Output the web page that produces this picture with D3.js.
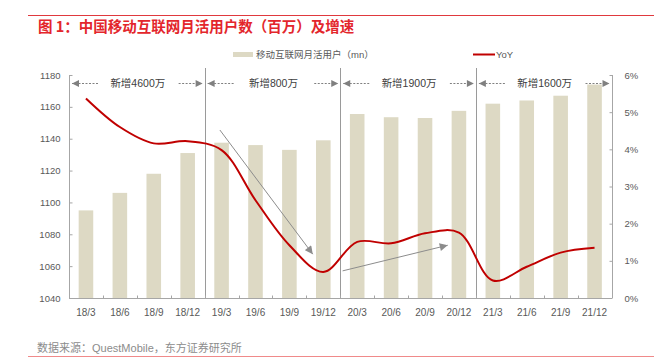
<!DOCTYPE html>
<html>
<head>
<meta charset="utf-8">
<script src="https://cdn.jsdelivr.net/npm/d3@7"></script>
<style>
  body { margin: 0; background: #fff; }
  svg { display: block; font-family: "Liberation Sans", "Noto Sans CJK SC", sans-serif; }
</style>
</head>
<body>
<div id="chart"></div>
<script>
// données
const quarters = ['18/3', '18/6', '18/9', '18/12', '19/3', '19/6', '19/9', '19/12',
  '20/3', '20/6', '20/9', '20/12', '21/3', '21/6', '21/9', '21/12'];
const mau = [1095, 1106, 1118, 1131, 1137.5, 1136, 1133, 1139,
  1155.5, 1153.5, 1153, 1157.5, 1162, 1164, 1167, 1174];
const yoy = [5.37, 4.6, 4.16, 4.22, 3.98, 2.63, 1.42, 0.7,
  1.51, 1.47, 1.74, 1.76, 0.47, 0.84, 1.22, 1.35];
const leftTicks = [1040, 1060, 1080, 1100, 1120, 1140, 1160, 1180];
const rightTicks = [0, 1, 2, 3, 4, 5, 6];
const periods = [
  { from: 0, to: 4, label: '新增4600万' },
  { from: 4, to: 8, label: '新增800万' },
  { from: 8, to: 12, label: '新增1900万' },
  { from: 12, to: 16, label: '新增1600万' }
];
// flèches grises (position de catégorie, YoY %)
const trendArrows = [
  { x1: 3.95, y1: 4.52, x2: 6.69, y2: 1.18 },
  { x1: 7.57, y1: 0.73, x2: 10.67, y2: 1.42 }
];

const width = 654;
const height = 362;
const margin = { top: 75, right: 43, bottom: 64, left: 69 };

const svg = d3.select('#chart')
  .append('svg')
  .attr('width', width)
  .attr('height', height);

const defs = svg.append('defs');
function addMarker(id, color, w, h) {
  defs.append('marker')
    .attr('id', id)
    .attr('viewBox', '0 0 10 10')
    .attr('refX', 10)
    .attr('refY', 5)
    .attr('markerUnits', 'userSpaceOnUse')
    .attr('markerWidth', w)
    .attr('markerHeight', h)
    .attr('orient', 'auto')
    .append('path')
    .attr('d', 'M0,0 L10,5 L0,10 Z')
    .attr('fill', color);
}
addMarker('head', '#808080', 8, 7);
addMarker('headDiag', '#8c8c8c', 9, 8);

// bandeau titre
svg.append('line')
  .attr('x1', 28).attr('x2', width)
  .attr('y1', 15.5).attr('y2', 15.5)
  .attr('stroke', '#e0393e').attr('stroke-width', 1);

svg.append('text')
  .attr('x', 38).attr('y', 32)
  .attr('font-size', '14.5px')
  .attr('font-weight', 'bold')
  .attr('fill', '#e3262c')
  .style('font-family', '"Noto Sans CJK SC", sans-serif')
  .text('图 1：中国移动互联网月活用户数（百万）及增速');

// échelles
const x0 = margin.left;
const x1 = width - margin.right + 0.5;
const y0 = height - margin.bottom;

const scaleX = d3.scaleBand()
  .domain(quarters)
  .range([x0, x1])
  .paddingInner(0.57)
  .paddingOuter(0.285);

const edgeX = d3.scaleLinear().domain([0, quarters.length]).range([x0, x1]);
const posX = d3.scaleLinear().domain([-0.5, quarters.length - 0.5]).range([x0, x1]);

const scaleY = d3.scaleLinear().domain([1040, 1180]).range([y0, margin.top]);
const scaleY2 = d3.scaleLinear().domain([0, 6]).range([y0, margin.top]);

// barres
svg.append('g')
  .selectAll('rect')
  .data(mau)
  .join('rect')
  .attr('x', (d, i) => scaleX(quarters[i]))
  .attr('width', scaleX.bandwidth())
  .attr('y', d => scaleY(d))
  .attr('height', d => scaleY(1040) - scaleY(d))
  .attr('fill', '#ddd9c4');

// séparateurs de périodes
svg.append('g')
  .selectAll('line')
  .data(periods.slice(1))
  .join('line')
  .attr('x1', d => Math.round(edgeX(d.from)) + 0.5)
  .attr('x2', d => Math.round(edgeX(d.from)) + 0.5)
  .attr('y1', 68)
  .attr('y2', y0)
  .attr('stroke', '#9a9a9a')
  .attr('stroke-width', 1);

// axes
const axisColor = '#a6a6a6';
const labelColor = '#595959';

const gx = svg.append('g').attr('transform', `translate(0, ${y0 + 0.5})`);
gx.append('line').attr('x1', x0).attr('x2', x1).attr('stroke', axisColor);
gx.selectAll('.tick')
  .data(d3.range(1, quarters.length))
  .join('line')
  .attr('x1', d => Math.round(edgeX(d)) + 0.5)
  .attr('x2', d => Math.round(edgeX(d)) + 0.5)
  .attr('y1', 0).attr('y2', -3)
  .attr('stroke', axisColor);
gx.selectAll('text')
  .data(quarters)
  .join('text')
  .attr('x', d => scaleX(d) + scaleX.bandwidth() / 2)
  .attr('y', 13.5)
  .attr('dy', '0.35em')
  .attr('text-anchor', 'middle')
  .attr('font-size', '10px')
  .attr('fill', labelColor)
  .text(d => d);

const gl = svg.append('g').attr('transform', `translate(${x0 + 0.5}, 0)`);
gl.call(d3.axisLeft(scaleY).tickValues(leftTicks).tickSize(-3).tickPadding(9)
    .tickFormat(d3.format('d')))
  .call(g => g.select('.domain').attr('stroke', axisColor).attr('d', `M0,${margin.top}V${y0}`))
  .call(g => g.selectAll('.tick line').attr('stroke', axisColor))
  .call(g => g.selectAll('.tick text').attr('font-size', '9.5px').attr('fill', labelColor)
    .style('font-family', '"Liberation Sans", sans-serif'));

const gr = svg.append('g').attr('transform', `translate(${Math.round(x1) + 0.5}, 0)`);
gr.call(d3.axisRight(scaleY2).tickValues(rightTicks).tickSize(-3).tickPadding(12)
    .tickFormat(d => d + '%'))
  .call(g => g.select('.domain').attr('stroke', axisColor).attr('d', `M0,${margin.top}V${y0}`))
  .call(g => g.selectAll('.tick line').attr('stroke', axisColor))
  .call(g => g.selectAll('.tick text').attr('font-size', '9.5px').attr('fill', labelColor)
    .style('font-family', '"Liberation Sans", sans-serif'));

// courbe YoY
const line = d3.line()
  .x((d, i) => posX(i))
  .y(d => scaleY2(d))
  .curve(d3.curveCatmullRom.alpha(0.5));

svg.append('path')
  .datum(yoy)
  .attr('d', line)
  .attr('fill', 'none')
  .attr('stroke', '#c00000')
  .attr('stroke-width', 2);

// annotations de périodes
const annY = 83.5;
const gp = svg.append('g');
periods.forEach(p => {
  const a = edgeX(p.from);
  const b = edgeX(p.to);
  gp.append('line')
    .attr('x1', a + 29).attr('x2', a + 3)
    .attr('y1', annY).attr('y2', annY)
    .attr('stroke', '#808080').attr('stroke-dasharray', '2,1.5')
    .attr('marker-end', 'url(#head)');
  gp.append('line')
    .attr('x1', b - 26).attr('x2', b - 2)
    .attr('y1', annY).attr('y2', annY)
    .attr('stroke', '#808080').attr('stroke-dasharray', '2,1.5')
    .attr('marker-end', 'url(#head)');
  gp.append('text')
    .attr('x', (a + b) / 2 + 1)
    .attr('y', annY)
    .attr('dy', '0.35em')
    .attr('text-anchor', 'middle')
    .attr('font-size', '10.5px')
    .attr('fill', '#404040')
    .text(p.label);
});

// flèches de tendance
svg.append('g')
  .selectAll('line')
  .data(trendArrows)
  .join('line')
  .attr('x1', d => posX(d.x1))
  .attr('y1', d => scaleY2(d.y1))
  .attr('x2', d => posX(d.x2))
  .attr('y2', d => scaleY2(d.y2))
  .attr('stroke', '#8c8c8c')
  .attr('stroke-width', 1)
  .attr('marker-end', 'url(#headDiag)');

// légende
const lg = svg.append('g').attr('font-size', '9.5px').attr('fill', labelColor);
lg.append('rect')
  .attr('x', 233).attr('y', 52)
  .attr('width', 20).attr('height', 5)
  .attr('fill', '#ddd9c4');
lg.append('text')
  .attr('x', 256).attr('y', 54.5).attr('dy', '0.35em')
  .text('移动互联网月活用户（mn）');
lg.append('line')
  .attr('x1', 473).attr('x2', 495)
  .attr('y1', 54.5).attr('y2', 54.5)
  .attr('stroke', '#c00000').attr('stroke-width', 2);
lg.append('text')
  .attr('x', 496).attr('y', 54.5).attr('dy', '0.35em')
  .text('YoY');

// source
svg.append('text')
  .attr('x', 37).attr('y', 348).attr('dy', '0.35em')
  .attr('font-size', '11px')
  .attr('fill', '#8c8c8c')
  .text('数据来源：QuestMobile，东方证券研究所');

svg.append('line')
  .attr('x1', 28).attr('x2', width)
  .attr('y1', 356.5).attr('y2', 356.5)
  .attr('stroke', '#f08a8a').attr('stroke-width', 1);
</script>
</body>
</html>
